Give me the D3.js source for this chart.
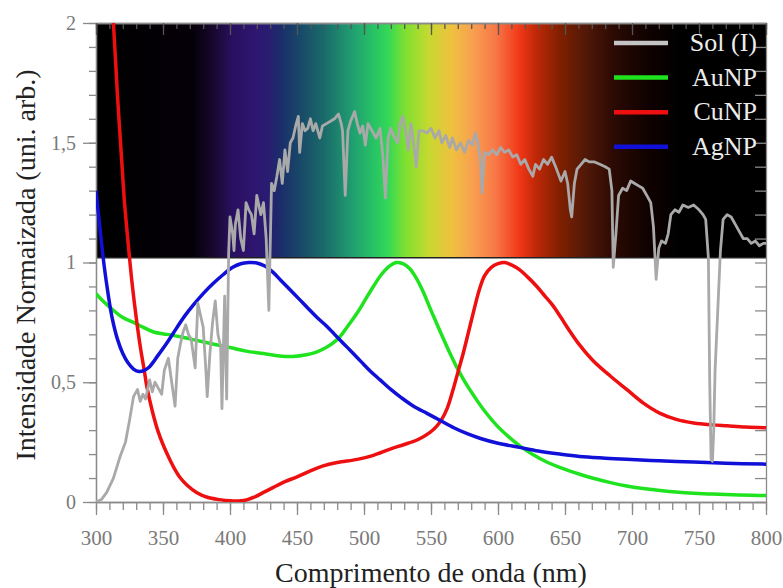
<!DOCTYPE html>
<html>
<head>
<meta charset="utf-8">
<script src="https://cdn.jsdelivr.net/npm/d3@7"></script>
<style>
  body { margin: 0; background: #fff; }
  svg { display: block; }
</style>
</head>
<body>
<div id="chart"></div>
<script>
// data: [wavelength nm, normalized intensity]
const solData = [
  [300, 0.00], [304, 0.01], [308, 0.04], [313, 0.10], [318, 0.19], [322, 0.25], [325, 0.34], [328, 0.44],
  [331, 0.47], [333, 0.42], [335, 0.45], [337, 0.43], [340, 0.51], [342, 0.46], [344, 0.50], [347, 0.47],
  [349, 0.45], [351, 0.55], [354, 0.60], [356, 0.52], [357, 0.48], [359, 0.40], [361, 0.60], [363, 0.66],
  [365, 0.71], [367, 0.74], [369, 0.70], [371, 0.68], [373, 0.60], [374, 0.56], [376, 0.83], [378, 0.78],
  [380, 0.73], [382, 0.55], [383, 0.44], [385, 0.62], [387, 0.75], [389, 0.84], [391, 0.70], [393, 0.65],
  [394, 0.39], [396, 0.86], [397.5, 0.43], [399, 1.04], [400, 1.19], [402, 1.12], [403, 1.05], [404, 1.16],
  [406, 1.22], [408, 1.10], [410, 1.05], [412, 1.25], [414, 1.22], [416, 1.20], [418, 1.12], [420, 1.28],
  [423, 1.20], [425, 1.25], [427, 1.10], [429, 0.80], [431, 1.33], [433, 1.30], [435, 1.36], [437, 1.43],
  [439, 1.33], [441, 1.47], [443, 1.38], [445, 1.50], [447, 1.52], [449, 1.57], [451, 1.61], [452, 1.46],
  [454, 1.58], [456, 1.55], [458, 1.56], [460, 1.60], [462, 1.55], [464, 1.58], [467, 1.52], [469, 1.57],
  [472, 1.58], [475, 1.59], [478, 1.60], [481, 1.62], [483, 1.58], [484, 1.55], [486, 1.28], [488, 1.55],
  [490, 1.59], [493, 1.63], [495, 1.58], [497, 1.54], [499, 1.57], [501, 1.49], [503, 1.58], [506, 1.55],
  [509, 1.52], [512, 1.56], [514, 1.45], [516, 1.27], [518, 1.52], [520, 1.56], [522, 1.53], [525, 1.50],
  [527, 1.58], [529, 1.61], [531, 1.55], [533, 1.47], [535, 1.58], [537, 1.50], [539, 1.40], [541, 1.55],
  [544, 1.55], [547, 1.54], [550, 1.56], [553, 1.52], [556, 1.55], [558, 1.50], [561, 1.53], [564, 1.48],
  [566, 1.52], [569, 1.47], [572, 1.50], [575, 1.46], [578, 1.51], [581, 1.49], [583, 1.54], [585, 1.50],
  [587, 1.42], [588, 1.29], [590, 1.46], [593, 1.45], [596, 1.47], [599, 1.45], [602, 1.48], [605, 1.46],
  [608, 1.47], [611, 1.44], [614, 1.45], [617, 1.41], [620, 1.43], [623, 1.39], [626, 1.36], [628, 1.41],
  [631, 1.39], [634, 1.43], [637, 1.41], [640, 1.44], [643, 1.40], [645, 1.37], [647, 1.34], [650, 1.38],
  [652, 1.33], [654, 1.22], [655, 1.19], [657, 1.33], [659, 1.39], [662, 1.41], [665, 1.43], [668, 1.42],
  [672, 1.42], [676, 1.41], [680, 1.40], [683, 1.39], [685, 1.30], [686, 0.98], [688, 1.12], [690, 1.28],
  [693, 1.31], [696, 1.30], [699, 1.34], [702, 1.33], [705, 1.32], [708, 1.31], [711, 1.28], [714, 1.25],
  [716, 1.15], [718, 0.93], [720, 1.06], [722, 1.09], [725, 1.08], [727, 1.12], [729, 1.20], [732, 1.22],
  [735, 1.21], [738, 1.24], [742, 1.23], [746, 1.24], [750, 1.22], [753, 1.20], [755, 1.18], [757, 1.02],
  [758, 0.50], [759, 0.18], [760, 0.17], [761, 0.30], [762, 0.55], [764, 0.80], [766, 1.05], [768, 1.18],
  [771, 1.20], [774, 1.19], [777, 1.16], [780, 1.13], [783, 1.10], [786, 1.10], [789, 1.08], [792, 1.09],
  [795, 1.07], [798, 1.08], [800, 1.08]
];

const auData = [
  [300, 0.87], [305, 0.84], [313, 0.80], [320, 0.77], [328, 0.75], [335, 0.73], [343, 0.71], [353, 0.70],
  [363, 0.69], [375, 0.675], [387, 0.66], [400, 0.645], [412, 0.63], [425, 0.62], [437, 0.61], [447, 0.608],
  [457, 0.615], [464, 0.625], [470, 0.64], [476, 0.66], [482, 0.69], [488, 0.735], [495, 0.79], [501, 0.845],
  [507, 0.90], [513, 0.95], [519, 0.985], [524, 1.0], [529, 0.995], [534, 0.975], [539, 0.935], [544, 0.88],
  [550, 0.80], [557, 0.71], [563, 0.635], [570, 0.555], [576, 0.495], [583, 0.435], [590, 0.38], [599, 0.32],
  [608, 0.272], [616, 0.235], [626, 0.198], [636, 0.168], [646, 0.145], [661, 0.116], [671, 0.099],
  [684, 0.081], [696, 0.067], [710, 0.055], [721, 0.048], [735, 0.041], [746, 0.037], [760, 0.033],
  [775, 0.030], [790, 0.028], [800, 0.027]
];

const cuData = [
  [300, 2.9], [305, 2.6], [310, 2.25], [313, 2.0], [316, 1.70], [319, 1.44], [321, 1.27], [323, 1.14],
  [325, 1.02], [327, 0.91], [330, 0.77], [333, 0.65], [336, 0.55], [338, 0.48], [342, 0.38], [346, 0.30],
  [350, 0.24], [354, 0.19], [358, 0.145], [363, 0.10], [368, 0.07], [375, 0.04], [383, 0.02], [392, 0.01],
  [400, 0.005], [408, 0.005], [413, 0.01], [418, 0.02], [425, 0.04], [432, 0.06], [441, 0.085], [450, 0.105],
  [460, 0.13], [469, 0.15], [480, 0.165], [495, 0.178], [507, 0.195], [519, 0.22], [530, 0.24], [540, 0.26],
  [549, 0.29], [554, 0.315], [558, 0.345], [562, 0.39], [566, 0.46], [570, 0.54], [574, 0.62], [578, 0.71],
  [582, 0.80], [586, 0.885], [590, 0.945], [595, 0.98], [600, 0.995], [605, 1.0], [610, 0.99], [616, 0.97],
  [622, 0.94], [629, 0.90], [635, 0.86], [641, 0.82], [647, 0.77], [654, 0.71], [661, 0.655], [671, 0.59],
  [684, 0.525], [696, 0.47], [708, 0.415], [721, 0.37], [733, 0.345], [746, 0.33], [760, 0.322],
  [771, 0.318], [785, 0.313], [800, 0.31]
];

const agData = [
  [300, 1.30], [303, 1.14], [306, 0.99], [309, 0.87], [312, 0.77], [316, 0.68], [320, 0.62], [324, 0.58],
  [328, 0.555], [332, 0.545], [336, 0.55], [340, 0.565], [346, 0.61], [353, 0.665], [360, 0.725], [366, 0.775],
  [373, 0.825], [380, 0.87], [387, 0.91], [395, 0.95], [402, 0.98], [408, 0.995], [414, 1.0], [420, 0.998],
  [426, 0.985], [432, 0.96], [438, 0.925], [445, 0.885], [452, 0.845], [458, 0.81], [465, 0.77], [472, 0.735],
  [478, 0.70], [485, 0.66], [492, 0.62], [498, 0.585], [505, 0.545], [512, 0.51], [520, 0.47], [528, 0.435],
  [537, 0.40], [547, 0.37], [557, 0.34], [567, 0.31], [577, 0.285], [587, 0.265], [600, 0.245], [616, 0.228],
  [630, 0.213], [646, 0.20], [661, 0.19], [680, 0.183], [696, 0.178], [720, 0.172], [746, 0.167],
  [770, 0.162], [800, 0.158]
];

const seriesNames = ['Sol (I)', 'AuNP', 'CuNP', 'AgNP'];
const seriesColors = ['#a9a9a9', '#1ee31e', '#ee1010', '#1010d8'];
const legendColors = ['#c4c4c4', '#1ee31e', '#ee1010', '#1010d8'];

// visible-spectrum band behind the upper half
const spectrumNm = [300, 372, 388, 402, 418, 428, 436, 452, 470, 492, 508, 518, 531, 549, 566, 581, 598, 616, 628, 646, 666, 686, 711, 736, 800];
const spectrumColors = ['#000000', '#050008', '#180830', '#2a1060', '#2e1670', '#2a1c72', '#1c2a6a', '#184868', '#1a6a6a', '#20a070', '#28c464', '#34d856', '#80e030', '#c8d830', '#f0c040', '#f8a050', '#f87848', '#f03818', '#c02808', '#802000', '#501808', '#2c0a04', '#100200', '#000000', '#000000'];
const bandBottom = 1.02;

const xTickValues = d3.range(300, 801, 50);
const yTickValues = [0, 0.5, 1, 1.5, 2];
const yTickLabels = ['0', '0,5', '1', '1,5', '2'];

const W = 783, H = 588;
const margin = { top: 23, right: 17, bottom: 86, left: 96 };
const width = W - margin.left - margin.right;
const height = H - margin.top - margin.bottom;

const svg = d3.select('#chart').append('svg')
  .attr('width', W)
  .attr('height', H);

const g = svg.append('g')
  .attr('transform', `translate(${margin.left},${margin.top})`);

const x = d3.scaleLinear().domain([300, 800]).range([0, width]);
const y = d3.scaleLinear().domain([0, 2]).range([height, 0]);

// gradient band
const defs = svg.append('defs');
const grad = defs.append('linearGradient')
  .attr('id', 'spectrum')
  .attr('gradientUnits', 'userSpaceOnUse')
  .attr('x1', x(300)).attr('x2', x(800))
  .attr('y1', 0).attr('y2', 0);
grad.selectAll('stop')
  .data(spectrumNm)
  .enter()
  .append('stop')
  .attr('offset', d => (x(d) - x(300)) / (x(800) - x(300)))
  .attr('stop-color', (d, i) => spectrumColors[i]);

defs.append('clipPath').attr('id', 'plot-clip')
  .append('rect')
  .attr('width', width)
  .attr('height', height);

g.append('rect')
  .attr('x', x(300))
  .attr('y', y(2))
  .attr('width', x(800) - x(300))
  .attr('height', y(bandBottom) - y(2))
  .attr('fill', 'url(#spectrum)');
g.append('line')
  .attr('x1', x(300)).attr('x2', x(800))
  .attr('y1', y(bandBottom)).attr('y2', y(bandBottom))
  .attr('stroke', '#222')
  .attr('stroke-width', 1.5);

// axes
const axisColor = '#8a8a8a';
function styleAxis(sel) {
  sel.selectAll('.domain').attr('stroke', axisColor).attr('stroke-width', 1.3);
  sel.selectAll('.tick line').attr('stroke', axisColor).attr('stroke-width', 1.3);
  sel.selectAll('text')
    .attr('fill', '#7a7a7a')
    .attr('font-family', '"Liberation Serif", "Times New Roman", serif');
}

const minorX = d3.range(300, 801, 10);
const minorY = d3.range(0, 2.001, 0.1);

g.append('g')
  .attr('transform', `translate(0,${height})`)
  .call(d3.axisBottom(x).tickValues(minorX).tickSize(8).tickSizeOuter(0).tickFormat(''))
  .call(styleAxis);
g.append('g')
  .attr('transform', `translate(0,${height})`)
  .call(d3.axisBottom(x).tickValues(xTickValues).tickSize(13).tickSizeOuter(0).tickPadding(15).tickFormat(d3.format('d')))
  .call(styleAxis)
  .call(a => a.selectAll('text').attr('font-size', 21));

g.append('g')
  .call(d3.axisLeft(y).tickValues(minorY).tickSize(7).tickSizeOuter(0).tickFormat(''))
  .call(styleAxis);
g.append('g')
  .call(d3.axisLeft(y).tickValues(yTickValues).tickSize(13).tickSizeOuter(0).tickPadding(7)
    .tickFormat((d, i) => yTickLabels[i]))
  .call(styleAxis)
  .call(a => a.selectAll('text').attr('font-size', 20));

// right axis, ticks inward
g.append('g')
  .attr('transform', `translate(${width},0)`)
  .call(d3.axisLeft(y).tickValues(minorY).tickSize(11).tickSizeOuter(0).tickFormat(''))
  .call(styleAxis);
// top axis, ticks inward
g.append('g')
  .call(d3.axisBottom(x).tickValues(minorX).tickSize(6).tickSizeOuter(0).tickFormat(''))
  .call(styleAxis)
  .call(a => a.selectAll('.tick line').attr('stroke', '#555'));
g.append('g')
  .call(d3.axisBottom(x).tickValues(xTickValues).tickSize(12).tickSizeOuter(0).tickFormat(''))
  .call(styleAxis)
  .call(a => a.selectAll('.tick line').attr('stroke', '#555'));

// curves
const smooth = d3.line()
  .x(d => x(d[0]))
  .y(d => y(d[1]))
  .curve(d3.curveCatmullRom.alpha(0.5));
const jagged = d3.line()
  .x(d => x(d[0]))
  .y(d => y(d[1]));

const plot = g.append('g').attr('clip-path', 'url(#plot-clip)');

const curves = [
  { data: auData, color: seriesColors[1], gen: smooth, w: 3.5 },
  { data: cuData, color: seriesColors[2], gen: smooth, w: 3.5 },
  { data: agData, color: seriesColors[3], gen: smooth, w: 3.5 },
  { data: solData, color: seriesColors[0], gen: jagged, w: 2.8 },
];

plot.selectAll('path.curve')
  .data(curves)
  .enter()
  .append('path')
  .attr('class', 'curve')
  .attr('d', d => d.gen(d.data))
  .attr('fill', 'none')
  .attr('stroke', d => d.color)
  .attr('stroke-width', d => d.w)
  .attr('stroke-linejoin', 'round');

// legend
const legend = g.append('g')
  .attr('transform', `translate(${width - 152},20)`);
const item = legend.selectAll('g')
  .data(seriesNames)
  .enter()
  .append('g')
  .attr('transform', (d, i) => `translate(0,${i * 34.6})`);
item.append('line')
  .attr('x1', 0).attr('x2', 54)
  .attr('stroke', (d, i) => legendColors[i])
  .attr('stroke-width', 4.5);
item.append('text')
  .attr('x', 143)
  .attr('y', 8)
  .attr('text-anchor', 'end')
  .attr('fill', '#ececec')
  .attr('font-size', 26)
  .attr('font-family', '"Liberation Serif", "Times New Roman", serif')
  .text(d => d);

// axis titles
svg.append('text')
  .attr('x', margin.left + width / 2)
  .attr('y', 582)
  .attr('text-anchor', 'middle')
  .attr('font-size', 28)
  .attr('fill', '#222')
  .attr('font-family', '"Liberation Serif", "Times New Roman", serif')
  .text('Comprimento de onda (nm)');

svg.append('text')
  .attr('transform', 'translate(35,265) rotate(-90)')
  .attr('text-anchor', 'middle')
  .attr('font-size', 28)
  .attr('fill', '#222')
  .attr('font-family', '"Liberation Serif", "Times New Roman", serif')
  .text('Intensidade Normaizada (uni. arb.)');
</script>
</body>
</html>
